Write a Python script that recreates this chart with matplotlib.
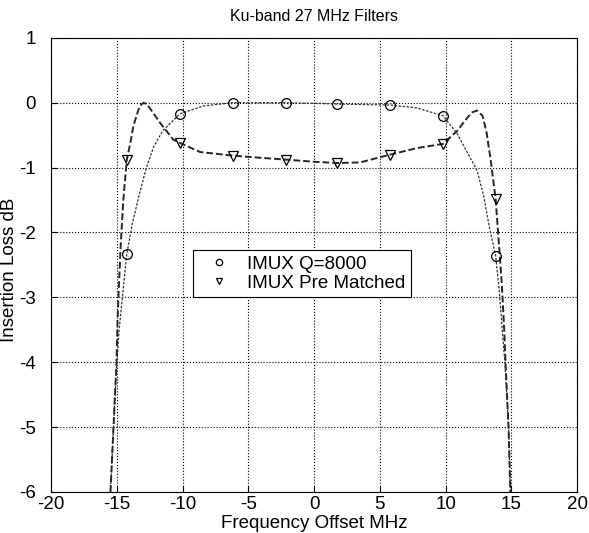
import matplotlib
matplotlib.use("Agg")
import matplotlib.pyplot as plt

plt.rcParams.update({"font.family": ["Liberation Sans", "DejaVu Sans"],
                     "axes.unicode_minus": False})

# IMUX Q=8000 (dotted curve, circle markers)
q_x = [-15.48, -15.25, -15.0, -14.82, -14.6, -14.45, -14.24, -13.8, -13.3, -12.75,
       -12.2, -11.5, -10.19, -8.4, -6.2, -4.0, -2.15, 0.0, 1.77, 4.0, 5.78, 7.8,
       9.79, 10.85, 11.6, 12.4, 12.9, 13.35, 13.8, 14.05, 14.3, 14.5, 14.78, 14.92]
q_y = [-6.0, -5.0, -4.0, -3.5, -3.05, -2.75, -2.33, -1.85, -1.42, -1.0,
       -0.68, -0.43, -0.17, -0.05, 0.0, 0.0, 0.0, -0.01, -0.02, -0.03, -0.035, -0.08,
       -0.2, -0.47, -0.75, -1.05, -1.45, -1.95, -2.36, -2.85, -3.5, -4.0, -5.0, -6.0]

# IMUX Pre Matched (dashed curve, triangle markers)
p_x = [-15.48, -15.25, -15.02, -14.95, -14.85, -14.72, -14.5, -14.24, -13.95, -13.74,
       -13.36, -13.15, -12.95, -12.7, -12.5, -11.71, -10.7, -10.19, -8.67, -6.2,
       -4.0, -2.15, 0.0, 1.77, 3.5, 5.78, 7.8, 9.79, 10.85, 11.61, 12.0, 12.37,
       12.8, 13.1, 13.4, 13.8, 14.02, 14.27, 14.45, 14.55, 14.78, 14.92]
p_y = [-6.0, -5.0, -4.0, -3.4, -2.88, -2.26, -1.49, -0.88, -0.6, -0.36,
       -0.11, -0.03, 0.0, -0.03, -0.08, -0.31, -0.57, -0.62, -0.76, -0.815,
       -0.85, -0.877, -0.91, -0.93, -0.92, -0.80, -0.70, -0.635, -0.44, -0.24, -0.15, -0.12,
       -0.2, -0.45, -0.85, -1.49, -2.1, -2.8, -3.5, -4.0, -5.0, -6.0]

# marker samples
m_x = [-14.24, -10.19, -6.2, -2.15, 1.77, 5.78, 9.79, 13.8]
q_m = [-2.33, -0.17, 0.0, 0.0, -0.02, -0.035, -0.2, -2.36]
p_m = [-0.88, -0.62, -0.815, -0.877, -0.93, -0.80, -0.635, -1.49]

x_ticks = [-20, -15, -10, -5, 0, 5, 10, 15, 20]
y_ticks = [-6, -5, -4, -3, -2, -1, 0, 1]

fig = plt.figure(figsize=(5.89, 5.33), dpi=100)
ax = fig.add_axes([0.0866, 0.077, 0.8934, 0.852])

ax.plot(q_x, q_y, ls=(0, (2, 1.2)), lw=0.9, color="0.2")
ax.plot(p_x, p_y, ls=(0, (3.5, 1.5)), lw=1.4, color="0.15")
ax.plot(m_x, q_m, ls="none", marker="o", ms=7, mfc="none", mec="black", mew=0.9,
        label="IMUX Q=8000")
ax.plot(m_x, p_m, ls="none", marker="v", ms=7.5, mfc="none", mec="black", mew=0.9,
        label="IMUX Pre Matched")

ax.set_xlim(-20, 20)
ax.set_ylim(-6, 1)
ax.set_xticks(x_ticks)
ax.set_yticks(y_ticks)
ax.grid(True, ls=":", color="black", lw=0.8)
ax.tick_params(direction="in", labelsize=13.5, length=4)
ax.tick_params(axis="x", pad=3)
ax.tick_params(axis="y", pad=11)
for s in ax.spines.values():
    s.set_linewidth(0.8)

ax.set_title("Ku-band 27 MHz Filters", fontsize=11.5, pad=12)
ax.set_xlabel("Frequency Offset MHz", fontsize=13.5, labelpad=1)
ax.set_ylabel("Insertion Loss dB", fontsize=13.5)
ax.yaxis.set_label_coords(-0.062, 0.49)

leg = ax.legend(loc="upper left", bbox_to_anchor=(0.27, 0.533), fontsize=13.5,
                fancybox=False, framealpha=1, edgecolor="black", handlelength=2.2,
                handletextpad=0.4, borderpad=0.3, labelspacing=0.1, markerscale=0.65,
                borderaxespad=0)
leg.get_frame().set_linewidth(0.8)

fig.savefig("out.png", dpi=100)
